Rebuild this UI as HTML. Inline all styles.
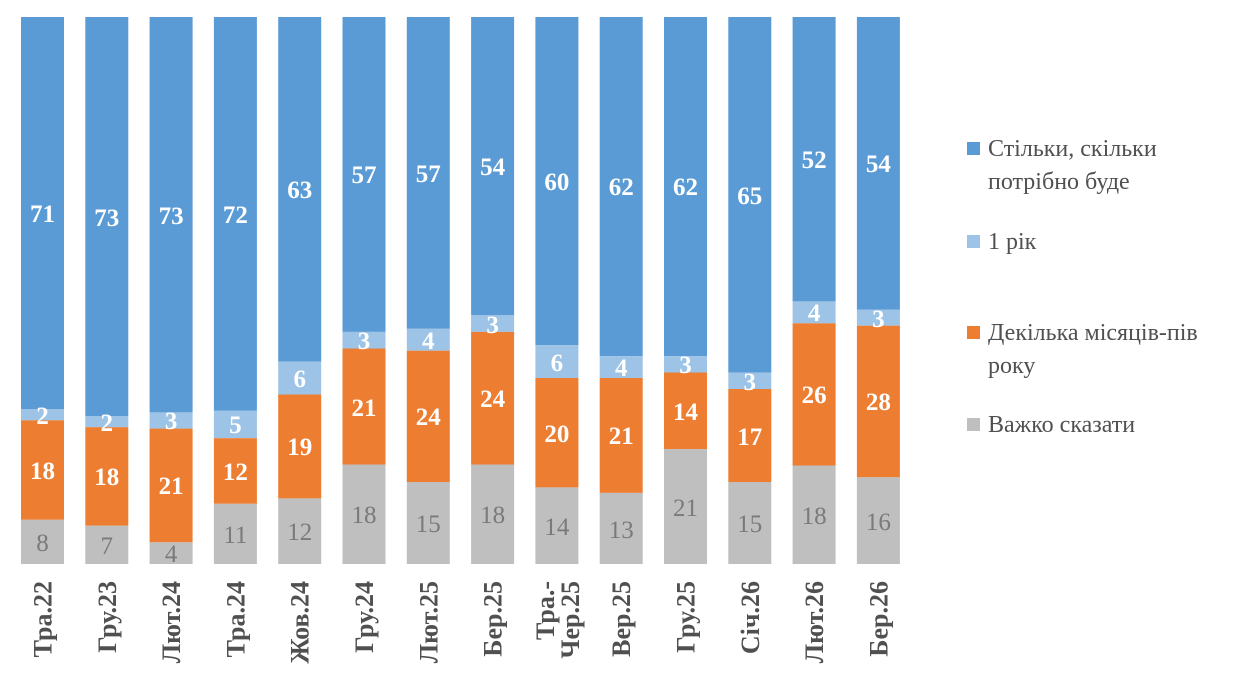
<!DOCTYPE html>
<html><head><meta charset="utf-8"><style>
body{margin:0;background:#fff}
svg{display:block;font-family:"Liberation Serif",serif}
.w{fill:#fff;font-weight:bold;font-size:25px;text-anchor:middle}
.g{fill:#7a7a7a;font-size:25px;text-anchor:middle}
.x{fill:#505050;font-weight:bold;font-size:26px;text-anchor:end}
.l{fill:#505050;font-size:24px}
</style></head><body>
<svg width="1244" height="692" viewBox="0 0 1244 692">
<g id="bars">
<rect x="21" y="17" width="43" height="392.3" fill="#5B9BD5"/><rect x="21" y="409.3" width="43" height="11" fill="#9DC3E6"/><rect x="21" y="420.3" width="43" height="99.5" fill="#ED7D31"/><rect x="21" y="519.8" width="43" height="44.2" fill="#BFBFBF"/>
<rect x="85.3" y="17" width="43" height="399.3" fill="#5B9BD5"/><rect x="85.3" y="416.3" width="43" height="10.9" fill="#9DC3E6"/><rect x="85.3" y="427.2" width="43" height="98.5" fill="#ED7D31"/><rect x="85.3" y="525.7" width="43" height="38.3" fill="#BFBFBF"/>
<rect x="149.6" y="17" width="43" height="395.4" fill="#5B9BD5"/><rect x="149.6" y="412.4" width="43" height="16.2" fill="#9DC3E6"/><rect x="149.6" y="428.6" width="43" height="113.7" fill="#ED7D31"/><rect x="149.6" y="542.3" width="43" height="21.7" fill="#BFBFBF"/>
<rect x="213.9" y="17" width="43" height="393.8" fill="#5B9BD5"/><rect x="213.9" y="410.8" width="43" height="27.4" fill="#9DC3E6"/><rect x="213.9" y="438.2" width="43" height="65.6" fill="#ED7D31"/><rect x="213.9" y="503.8" width="43" height="60.2" fill="#BFBFBF"/>
<rect x="278.2" y="17" width="43" height="344.7" fill="#5B9BD5"/><rect x="278.2" y="361.7" width="43" height="32.8" fill="#9DC3E6"/><rect x="278.2" y="394.5" width="43" height="103.9" fill="#ED7D31"/><rect x="278.2" y="498.4" width="43" height="65.6" fill="#BFBFBF"/>
<rect x="342.5" y="17" width="43" height="314.9" fill="#5B9BD5"/><rect x="342.5" y="331.9" width="43" height="16.6" fill="#9DC3E6"/><rect x="342.5" y="348.5" width="43" height="116" fill="#ED7D31"/><rect x="342.5" y="464.5" width="43" height="99.5" fill="#BFBFBF"/>
<rect x="406.8" y="17" width="43" height="311.8" fill="#5B9BD5"/><rect x="406.8" y="328.8" width="43" height="21.9" fill="#9DC3E6"/><rect x="406.8" y="350.7" width="43" height="131.3" fill="#ED7D31"/><rect x="406.8" y="482" width="43" height="82" fill="#BFBFBF"/>
<rect x="471.1" y="17" width="43" height="298.3" fill="#5B9BD5"/><rect x="471.1" y="315.3" width="43" height="16.6" fill="#9DC3E6"/><rect x="471.1" y="331.9" width="43" height="132.6" fill="#ED7D31"/><rect x="471.1" y="464.5" width="43" height="99.5" fill="#BFBFBF"/>
<rect x="535.4" y="17" width="43" height="328.2" fill="#5B9BD5"/><rect x="535.4" y="345.2" width="43" height="32.8" fill="#9DC3E6"/><rect x="535.4" y="378" width="43" height="109.4" fill="#ED7D31"/><rect x="535.4" y="487.4" width="43" height="76.6" fill="#BFBFBF"/>
<rect x="599.7" y="17" width="43" height="339.1" fill="#5B9BD5"/><rect x="599.7" y="356.1" width="43" height="21.9" fill="#9DC3E6"/><rect x="599.7" y="378" width="43" height="114.9" fill="#ED7D31"/><rect x="599.7" y="492.9" width="43" height="71.1" fill="#BFBFBF"/>
<rect x="664" y="17" width="43" height="339.1" fill="#5B9BD5"/><rect x="664" y="356.1" width="43" height="16.4" fill="#9DC3E6"/><rect x="664" y="372.5" width="43" height="76.6" fill="#ED7D31"/><rect x="664" y="449.1" width="43" height="114.9" fill="#BFBFBF"/>
<rect x="728.3" y="17" width="43" height="355.6" fill="#5B9BD5"/><rect x="728.3" y="372.6" width="43" height="16.4" fill="#9DC3E6"/><rect x="728.3" y="389" width="43" height="93" fill="#ED7D31"/><rect x="728.3" y="482" width="43" height="82" fill="#BFBFBF"/>
<rect x="792.6" y="17" width="43" height="284.4" fill="#5B9BD5"/><rect x="792.6" y="301.4" width="43" height="21.9" fill="#9DC3E6"/><rect x="792.6" y="323.3" width="43" height="142.2" fill="#ED7D31"/><rect x="792.6" y="465.5" width="43" height="98.5" fill="#BFBFBF"/>
<rect x="856.9" y="17" width="43" height="292.5" fill="#5B9BD5"/><rect x="856.9" y="309.5" width="43" height="16.2" fill="#9DC3E6"/><rect x="856.9" y="325.7" width="43" height="151.6" fill="#ED7D31"/><rect x="856.9" y="477.3" width="43" height="86.7" fill="#BFBFBF"/>
</g>
<g>
<text class="w" x="42.5" y="222">71</text><text class="w" x="42.5" y="424">2</text><text class="w" x="42.5" y="479">18</text><text class="g" x="42.5" y="551">8</text>
<text class="w" x="106.8" y="226">73</text><text class="w" x="106.8" y="431">2</text><text class="w" x="106.8" y="485">18</text><text class="g" x="106.8" y="554">7</text>
<text class="w" x="171.1" y="224">73</text><text class="w" x="171.1" y="429">3</text><text class="w" x="171.1" y="494">21</text><text class="g" x="171.1" y="562">4</text>
<text class="w" x="235.4" y="223">72</text><text class="w" x="235.4" y="433">5</text><text class="w" x="235.4" y="480">12</text><text class="g" x="235.4" y="543">11</text>
<text class="w" x="299.7" y="198">63</text><text class="w" x="299.7" y="387">6</text><text class="w" x="299.7" y="455">19</text><text class="g" x="299.7" y="540">12</text>
<text class="w" x="364" y="183">57</text><text class="w" x="364" y="349">3</text><text class="w" x="364" y="416">21</text><text class="g" x="364" y="523">18</text>
<text class="w" x="428.3" y="182">57</text><text class="w" x="428.3" y="349">4</text><text class="w" x="428.3" y="425">24</text><text class="g" x="428.3" y="532">15</text>
<text class="w" x="492.6" y="175">54</text><text class="w" x="492.6" y="333">3</text><text class="w" x="492.6" y="407">24</text><text class="g" x="492.6" y="523">18</text>
<text class="w" x="556.9" y="190">60</text><text class="w" x="556.9" y="371">6</text><text class="w" x="556.9" y="442">20</text><text class="g" x="556.9" y="535">14</text>
<text class="w" x="621.2" y="195">62</text><text class="w" x="621.2" y="376">4</text><text class="w" x="621.2" y="444">21</text><text class="g" x="621.2" y="538">13</text>
<text class="w" x="685.5" y="195">62</text><text class="w" x="685.5" y="373">3</text><text class="w" x="685.5" y="420">14</text><text class="g" x="685.5" y="516">21</text>
<text class="w" x="749.8" y="204">65</text><text class="w" x="749.8" y="390">3</text><text class="w" x="749.8" y="445">17</text><text class="g" x="749.8" y="532">15</text>
<text class="w" x="814.1" y="168">52</text><text class="w" x="814.1" y="321">4</text><text class="w" x="814.1" y="403">26</text><text class="g" x="814.1" y="524">18</text>
<text class="w" x="878.4" y="172">54</text><text class="w" x="878.4" y="327">3</text><text class="w" x="878.4" y="410">28</text><text class="g" x="878.4" y="530">16</text>
</g>
<g>
<text class="x" transform="translate(51.5,581) rotate(-90)">Тра.22</text>
<text class="x" transform="translate(115.8,581) rotate(-90)">Гру.23</text>
<text class="x" transform="translate(180.1,581) rotate(-90)">Лют.24</text>
<text class="x" transform="translate(244.4,581) rotate(-90)">Тра.24</text>
<text class="x" transform="translate(308.7,581) rotate(-90)">Жов.24</text>
<text class="x" transform="translate(373,581) rotate(-90)">Гру.24</text>
<text class="x" transform="translate(437.3,581) rotate(-90)">Лют.25</text>
<text class="x" transform="translate(501.6,581) rotate(-90)">Бер.25</text>
<text class="x" transform="translate(554,581) rotate(-90)">Тра.-</text>
<text class="x" transform="translate(579,581) rotate(-90)">Чер.25</text>
<text class="x" transform="translate(630.2,581) rotate(-90)">Вер.25</text>
<text class="x" transform="translate(694.5,581) rotate(-90)">Гру.25</text>
<text class="x" transform="translate(758.8,581) rotate(-90)">Січ.26</text>
<text class="x" transform="translate(823.1,581) rotate(-90)">Лют.26</text>
<text class="x" transform="translate(887.4,581) rotate(-90)">Бер.26</text>
</g>
<g>
<rect x="967" y="142" width="13" height="13" fill="#5B9BD5"/>
<text class="l" x="988" y="156">Стільки, скільки</text>
<text class="l" x="988" y="189">потрібно буде</text>
<rect x="967" y="235" width="13" height="13" fill="#9DC3E6"/>
<text class="l" x="988" y="249">1 рік</text>
<rect x="967" y="326" width="13" height="13" fill="#ED7D31"/>
<text class="l" x="988" y="340">Декілька місяців-пів</text>
<text class="l" x="988" y="373">року</text>
<rect x="967" y="418" width="13" height="13" fill="#BFBFBF"/>
<text class="l" x="988" y="432">Важко сказати</text>
</g>
</svg>
</body></html>
